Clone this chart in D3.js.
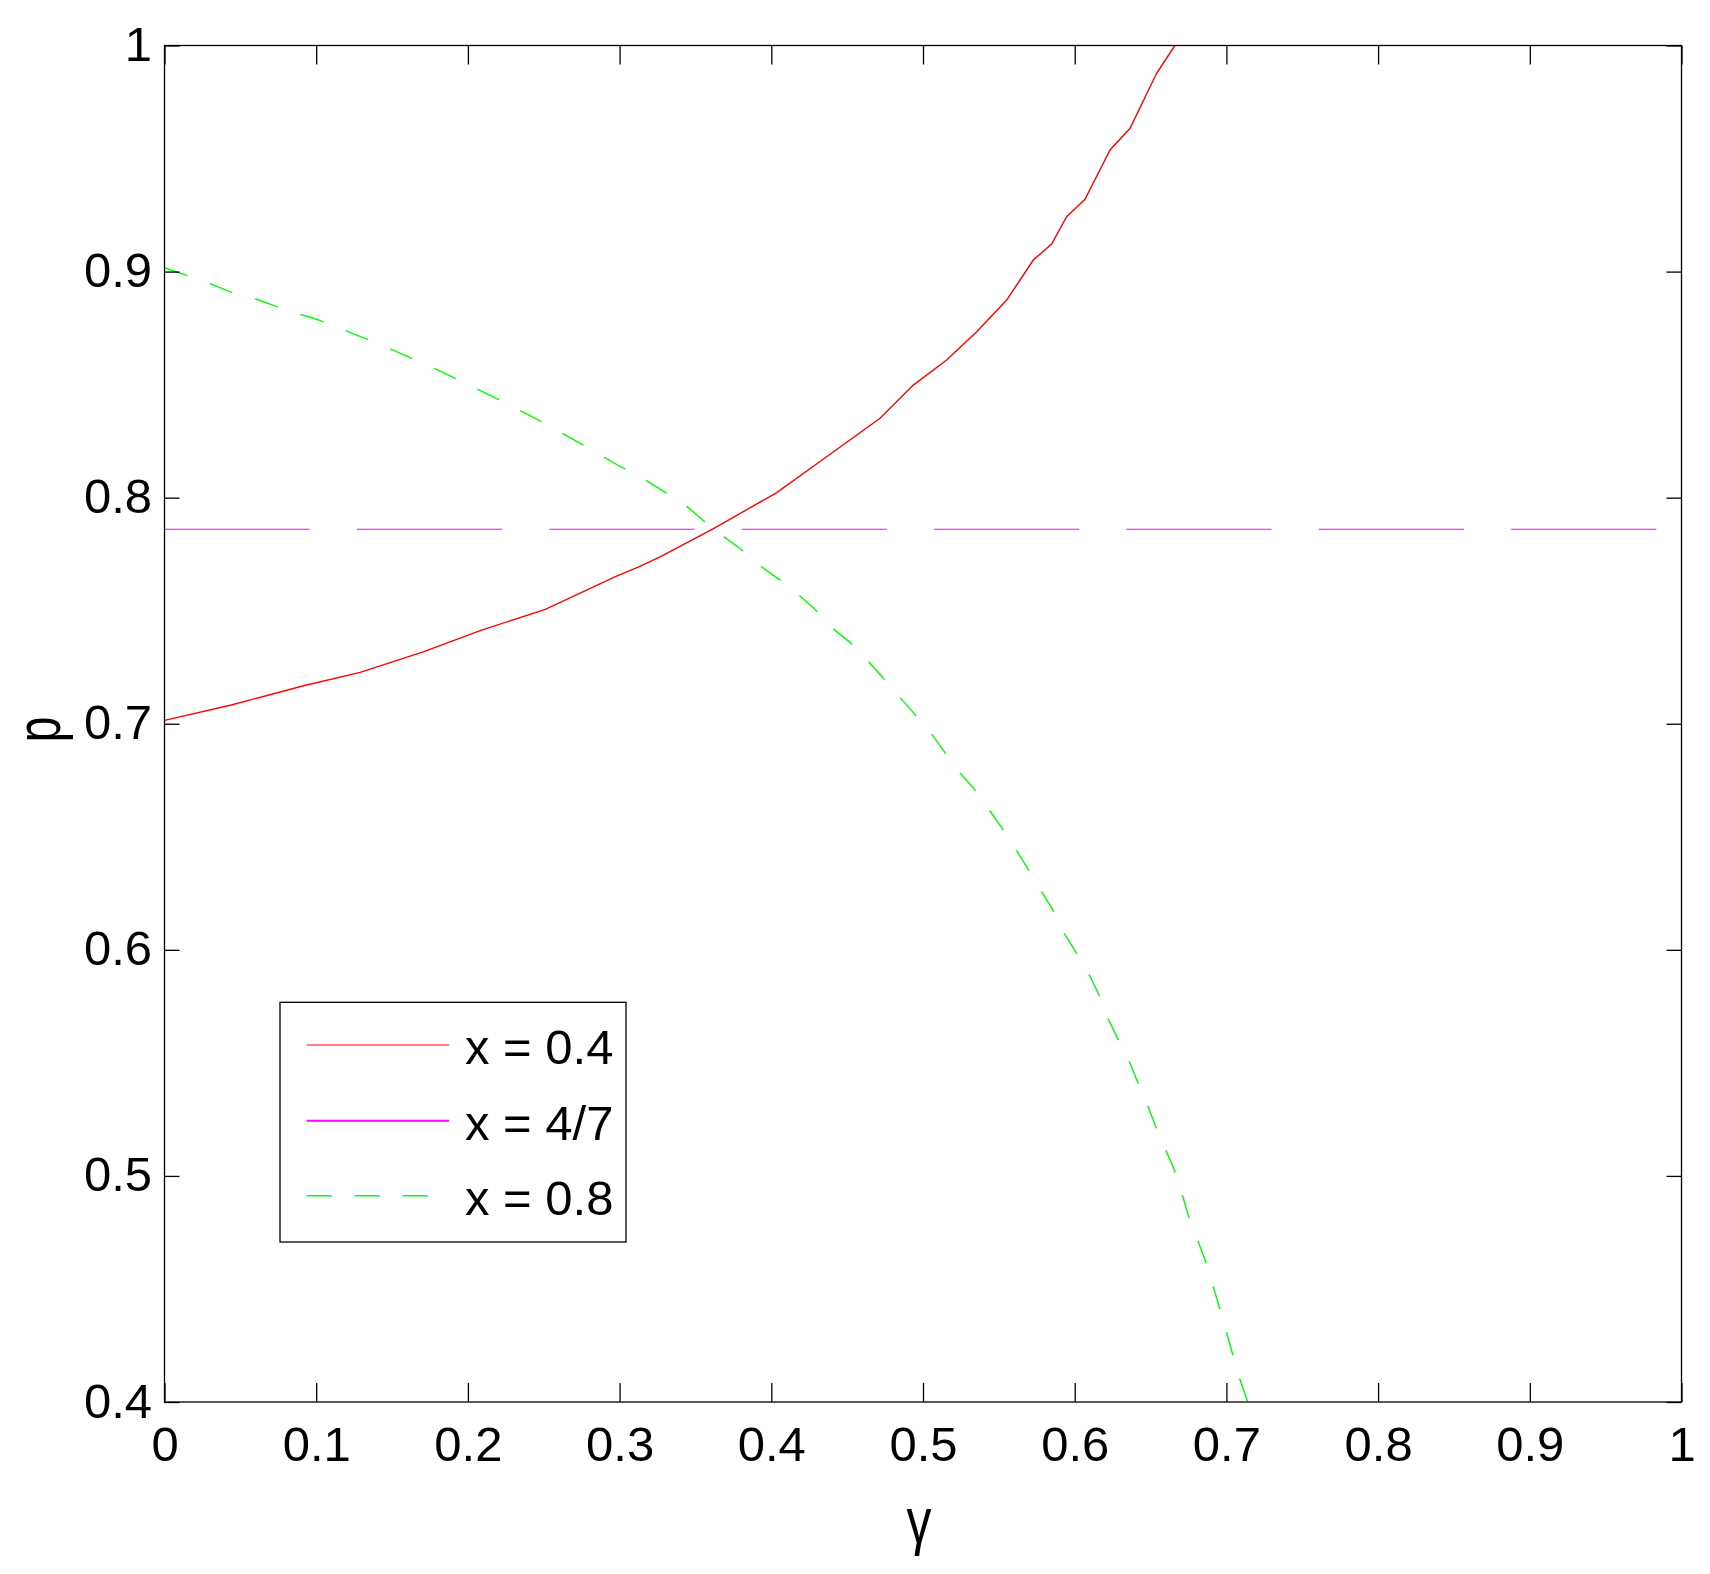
<!DOCTYPE html>
<html>
<head>
<meta charset="utf-8">
<script src="https://cdn.jsdelivr.net/npm/d3@7"></script>
<style>
  body { margin: 0; background: #fff; }
  svg { display: block; }
  text { font-family: "Liberation Sans", Arial, sans-serif; fill: #000; }
</style>
</head>
<body>
<svg id="chart"></svg>
<script>
// values
const gammaRed = [0, 0.044, 0.091, 0.129, 0.171, 0.209, 0.251, 0.298, 0.313, 0.327, 0.361, 0.4036, 0.4365, 0.4717, 0.4936, 0.5156, 0.5354, 0.5552, 0.5727, 0.5848, 0.5947, 0.6068, 0.6233, 0.6365, 0.654, 0.6661];
const pRed = [0.7015, 0.7083, 0.7167, 0.7227, 0.7319, 0.7414, 0.7506, 0.7653, 0.7695, 0.7739, 0.786, 0.8022, 0.8181, 0.8351, 0.8498, 0.8609, 0.8734, 0.8874, 0.9051, 0.9122, 0.9243, 0.932, 0.9538, 0.9634, 0.9877, 1.0];

const gammaMagenta = [0, 0.99];
const pMagenta = [0.786, 0.786];

const gammaGreen = [0, 0.0295, 0.0443, 0.059, 0.074, 0.0889, 0.1003, 0.12, 0.14, 0.16, 0.18, 0.2, 0.22, 0.24, 0.26, 0.28, 0.3, 0.3156, 0.3293, 0.3427, 0.3548, 0.367, 0.3798, 0.3914, 0.4049, 0.4171, 0.4288, 0.4398, 0.4519, 0.4629, 0.4732, 0.4837, 0.4941, 0.5046, 0.5138, 0.5229, 0.5332, 0.5427, 0.5516, 0.5604, 0.5688, 0.5769, 0.5853, 0.592, 0.6002, 0.6086, 0.6156, 0.6211, 0.6279, 0.6353, 0.641, 0.6475, 0.6531, 0.6593, 0.6655, 0.6705, 0.6749, 0.6804, 0.6861, 0.6907, 0.6953, 0.6995, 0.7039, 0.7081, 0.7134, 0.714];
const pGreen = [0.9017, 0.8948, 0.8908, 0.8882, 0.8845, 0.8812, 0.8789, 0.8737, 0.8683, 0.8625, 0.8565, 0.8501, 0.8435, 0.8366, 0.8293, 0.8218, 0.8139, 0.8084, 0.8027, 0.7971, 0.7901, 0.7836, 0.7773, 0.7705, 0.764, 0.7576, 0.7507, 0.7425, 0.736, 0.7283, 0.7207, 0.7124, 0.7046, 0.6965, 0.6879, 0.6794, 0.6716, 0.6628, 0.6543, 0.6453, 0.6362, 0.6272, 0.618, 0.6084, 0.5996, 0.5903, 0.5807, 0.5709, 0.5613, 0.5517, 0.5423, 0.5321, 0.5224, 0.5125, 0.503, 0.4927, 0.4825, 0.4728, 0.4626, 0.4525, 0.4421, 0.4321, 0.4217, 0.4116, 0.4013, 0.40];

const xTicks = [0, 0.1, 0.2, 0.3, 0.4, 0.5, 0.6, 0.7, 0.8, 0.9, 1];
const yTicks = [0.4, 0.5, 0.6, 0.7, 0.8, 0.9, 1];
const legendLabels = ["x = 0.4", "x = 4/7", "x = 0.8"];

const WIDTH = 1710;
const HEIGHT = 1574;
const PLOT = { left: 164.5, right: 1681.5, top: 45.5, bottom: 1402 };
const FONT = 49;

const svg = d3.select("#chart").attr("width", WIDTH).attr("height", HEIGHT);
svg.append("rect").attr("width", WIDTH).attr("height", HEIGHT).attr("fill", "#fff");

const xScale = d3.scaleLinear().domain([0, 1]).range([PLOT.left, PLOT.right]);
const yScale = d3.scaleLinear().domain([0.4, 1]).range([PLOT.bottom, PLOT.top]);
const fmt = d3.format("~g");

svg.append("clipPath").attr("id", "plotclip")
  .append("rect")
  .attr("x", PLOT.left).attr("y", PLOT.top)
  .attr("width", PLOT.right - PLOT.left).attr("height", PLOT.bottom - PLOT.top);

const line = d3.line().x(d => xScale(d[0])).y(d => yScale(d[1]));
const series = [
  { g: gammaRed, p: pRed, color: "#ff0000", width: 1.4, dash: null },
  { g: gammaMagenta, p: pMagenta, color: "#ff00ff", width: 1.1, dash: "145 47.4" },
  { g: gammaGreen, p: pGreen, color: "#00ff00", width: 1.4, dash: "24 24" },
];

const curves = svg.append("g").attr("clip-path", "url(#plotclip)");
series.forEach(s => {
  curves.append("path")
    .datum(s.g.map((v, i) => [v, s.p[i]]))
    .attr("d", line)
    .attr("fill", "none")
    .attr("stroke", s.color)
    .attr("stroke-width", s.width)
    .attr("stroke-dasharray", s.dash);
});

// axes: ticks point inwards on all four sides
const xAxisB = svg.append("g")
  .attr("transform", "translate(0," + PLOT.bottom + ")")
  .call(d3.axisBottom(xScale).tickValues(xTicks).tickSize(-19).tickFormat(fmt));
const xAxisT = svg.append("g")
  .attr("transform", "translate(0," + PLOT.top + ")")
  .call(d3.axisTop(xScale).tickValues(xTicks).tickSize(-19).tickFormat(""));
const yAxisL = svg.append("g")
  .attr("transform", "translate(" + PLOT.left + ",0)")
  .call(d3.axisLeft(yScale).tickValues(yTicks).tickSize(-15).tickFormat(fmt));
const yAxisR = svg.append("g")
  .attr("transform", "translate(" + PLOT.right + ",0)")
  .call(d3.axisRight(yScale).tickValues(yTicks).tickSize(-15).tickFormat(""));

[xAxisB, xAxisT, yAxisL, yAxisR].forEach(a => {
  a.select(".domain").remove();
  a.selectAll("line").attr("stroke", "#000").attr("stroke-width", 1.3);
});
xAxisB.selectAll("text")
  .attr("y", 59).attr("dy", null)
  .attr("font-size", FONT).attr("font-family", null).attr("fill", "#000");
yAxisL.selectAll("text")
  .attr("x", -12.5).attr("y", 15).attr("dy", null)
  .attr("font-size", FONT).attr("font-family", null).attr("fill", "#000");

svg.append("rect")
  .attr("x", PLOT.left).attr("y", PLOT.top)
  .attr("width", PLOT.right - PLOT.left).attr("height", PLOT.bottom - PLOT.top)
  .attr("fill", "none").attr("stroke", "#000").attr("stroke-width", 1.3);

// axis titles
svg.append("text")
  .attr("transform", "translate(919,1542.5) scale(1,1.29)")
  .attr("text-anchor", "middle")
  .attr("font-size", 50)
  .text("γ");
svg.append("text")
  .attr("transform", "translate(60,729.5) rotate(-90) scale(1,1.35)")
  .attr("text-anchor", "middle")
  .attr("font-size", 46)
  .text("p");

// legend
const legend = svg.append("g");
legend.append("rect")
  .attr("x", 280).attr("y", 1002.3).attr("width", 346).attr("height", 239.7)
  .attr("fill", "#fff").attr("stroke", "#000").attr("stroke-width", 1.3);
const legendY = [1045, 1120.7, 1195.7];
const legendW = [1, 2, 1.4];
series.forEach((s, i) => {
  legend.append("line")
    .attr("x1", 306.7).attr("x2", 449)
    .attr("y1", legendY[i]).attr("y2", legendY[i])
    .attr("stroke", s.color)
    .attr("stroke-width", legendW[i])
    .attr("stroke-dasharray", i === 2 ? "25 23" : null);
  legend.append("text")
    .attr("x", 465).attr("y", legendY[i] + 19)
    .attr("font-size", FONT)
    .text(legendLabels[i]);
});
</script>
</body>
</html>
